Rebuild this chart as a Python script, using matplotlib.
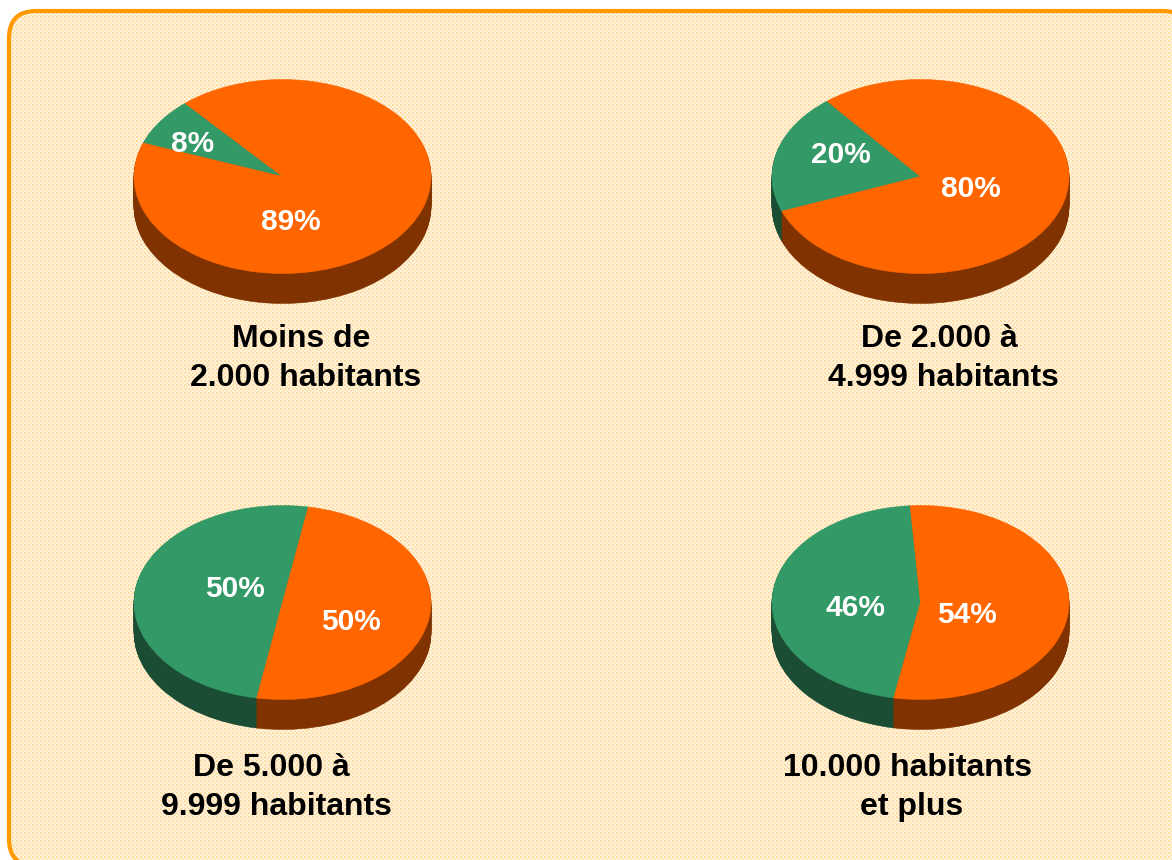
import matplotlib
matplotlib.use('Agg')
import matplotlib.pyplot as plt
import numpy as np
from matplotlib.patches import FancyBboxPatch

# slices per pie, green first then orange
values_1 = [8, 89, 3]
values_2 = [20, 80]
values_3 = [50, 50]
values_4 = [46, 54]
labels_1 = ['8%', '89%']
labels_2 = ['20%', '80%']
labels_3 = ['50%', '50%']
labels_4 = ['46%', '54%']
title_lines = ['Moins de', '2.000 habitants', 'De 2.000 à', '4.999 habitants',
               'De 5.000 à', '9.999 habitants', '10.000 habitants', 'et plus']

W, H = 1172, 860
GREEN, ORANGE = '#339966', '#FF6600'
DARK_GREEN, DARK_ORANGE = '#1A4D33', '#803300'
RX, RY, DEPTH = 148.5, 97, 30

plt.rcParams['font.family'] = ['Liberation Sans', 'DejaVu Sans']
fig = plt.figure(figsize=(W / 100, H / 100), dpi=100, facecolor='white')

# full figure axes in pixel coords for frame and texts
bg = fig.add_axes([0, 0, 1, 1])
bg.set_xlim(0, W)
bg.set_ylim(H, 0)
bg.axis('off')

# tiny alpha on the face, agg breaks the off canvas curves when there is no fill
frame = FancyBboxPatch((9, 11), 1181, 855, boxstyle='round,pad=0,rounding_size=27',
                       fc=(1, 1, 1, 0.01), ec='#FF9900', lw=3, zorder=3)
bg.add_patch(frame)

# dithered paper texture, clipped to the frame
yy, xx = np.mgrid[0:H, 0:W]
tex = np.ones((H, W, 3))
tex[:] = (1.0, 0.96, 0.88)
tex[(xx % 4 < 2) & (yy % 4 < 2)] = (1.0, 0.86, 0.62)
tex[(xx % 4 >= 2) & (yy % 4 >= 2)] = (1.0, 0.90, 0.72)
img = bg.imshow(tex, extent=(0, W, H, 0), interpolation='nearest', zorder=1, aspect='auto')
img.set_clip_path(frame)


def draw_layer(ax, values, colors, start, d):
    wedges, _ = ax.pie(values, colors=colors, startangle=start, center=(0, -d))
    # hide the seams between same coloured wedges
    for w in wedges:
        w.set_edgecolor(w.get_facecolor())
        w.set_linewidth(0.4)


def draw_pie(cx, cy, values, start):
    ax = fig.add_axes([(cx - RX) / W, 1 - (cy + RY + DEPTH) / H, 2 * RX / W, (2 * RY + DEPTH) / H])
    ax.patch.set_alpha(0)
    colors = [GREEN] + [ORANGE] * (len(values) - 1)
    dark = [DARK_GREEN] + [DARK_ORANGE] * (len(values) - 1)
    # side wall is the same pie stacked downwards
    for d in np.linspace(DEPTH / RY, 0.01, 40):
        draw_layer(ax, values, dark, start, d)
    draw_layer(ax, values, colors, start, 0)
    ax.set_aspect('auto')
    ax.set_xlim(-1, 1)
    ax.set_ylim(-1 - DEPTH / RY, 1)


draw_pie(282.5, 176.5, values_1, 131)
draw_pie(920.5, 176.5, values_2, 129)
draw_pie(282.5, 602.5, values_3, 80)
draw_pie(920.5, 602.5, values_4, 94)

# value labels
label_x = [[193, 291], [841, 971], [235, 351], [855, 967]]
label_y = [[144, 222], [155, 189], [589, 622], [608, 615]]
for labs, xs, ys in zip([labels_1, labels_2, labels_3, labels_4], label_x, label_y):
    for s, x, y in zip(labs, xs, ys):
        fig.text(x / W, 1 - y / H, s, color='white', fontsize=21.5, fontweight='bold',
                 ha='center', va='center', zorder=10)

title_x = [301.5, 305.5, 939.5, 943.5, 271.5, 276, 907.5, 911.5]
title_y = [339, 378, 339, 378, 768, 807, 768, 807]
for s, x, y in zip(title_lines, title_x, title_y):
    fig.text(x / W, 1 - y / H, s, color='black', fontsize=23, fontweight='bold',
             ha='center', va='center', zorder=10)

fig.savefig('out.png', dpi=100)
